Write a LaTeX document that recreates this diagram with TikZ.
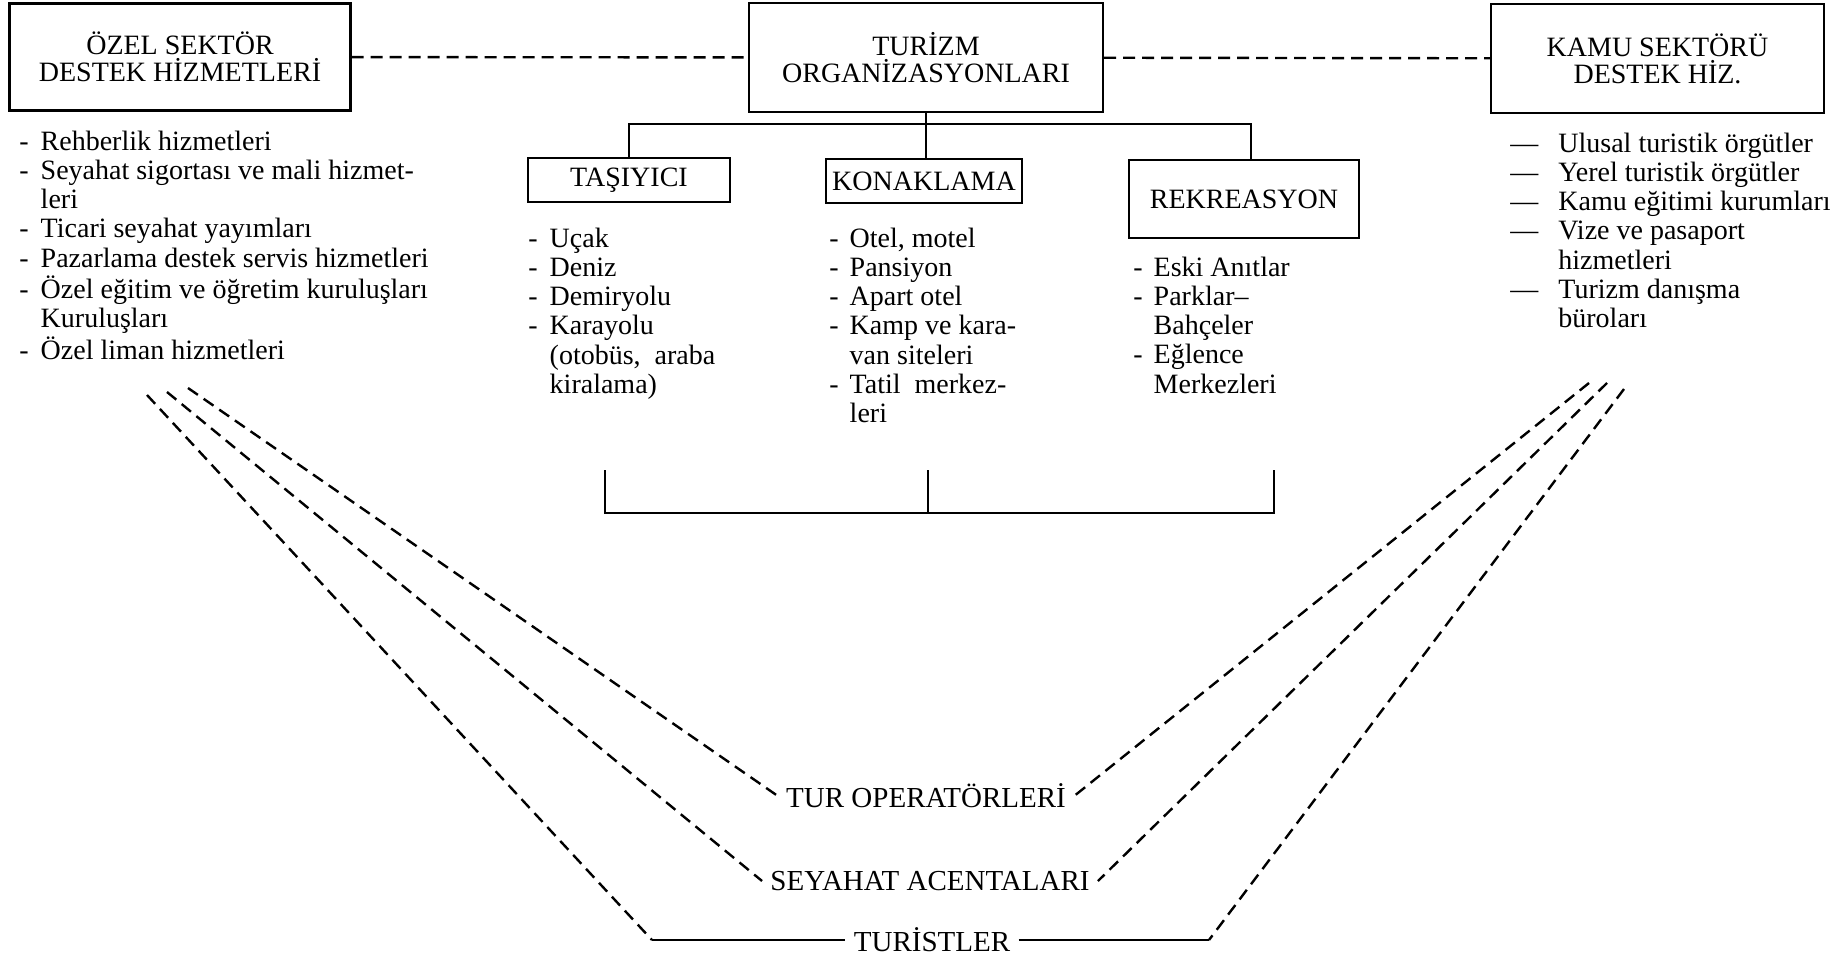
\documentclass[tikz,border=0pt]{standalone}
\usepackage{fontspec}
\setmainfont{Liberation Serif}
\usetikzlibrary{positioning}

\begin{document}
\begin{tikzpicture}[x=0.5pt, y=-0.5pt,
    box/.style={draw, line width=1.2pt, align=center, inner sep=0pt,
      font=\fontsize{14}{13.5}\selectfont},
    lst/.style={anchor=base west, inner sep=0pt,
      font=\fontsize{14}{14.65}\selectfont},
    lbl/.style={inner sep=4pt, font=\fontsize{14.5}{15}\selectfont},
    dsh/.style={line width=1.2pt, dash pattern=on 6pt off 3.5pt},
    ln/.style={line width=1.2pt}
  ]
  \useasboundingbox (0,0) rectangle (1841,958);

  % top row
  \node[box, minimum width=170.5pt, minimum height=53.5pt] (ozel) at (180,57) {ÖZEL SEKTÖR\\DESTEK HİZMETLERİ};
  \node[box, minimum width=177pt, minimum height=54.5pt] (turizm) at (926,57.5) {TURİZM\\ORGANİZASYONLARI};
  \node[box, minimum width=166.5pt, minimum height=54.5pt] (kamu) at (1657.5,58.5) {KAMU SEKTÖRÜ\\DESTEK HİZ.};
  \draw[dsh] (ozel) -- (turizm);
  \draw[dsh] (turizm) -- (kamu);

  % second row
  \node[box, minimum width=101pt, minimum height=22pt] (tas) at (629,180) {TAŞIYICI};
  \node[box, minimum width=98pt, minimum height=22pt] (kon) at (924,181) {KONAKLAMA};
  \node[box, minimum width=115pt, minimum height=39pt] (rek) at (1244,199) {REKREASYON};
  \draw[ln] (turizm.south) -- (turizm.south |- kon.north);
  \draw[ln] (tas.north) |- ([xshift=3.5pt, yshift=17.5pt]rek.north) -- ([xshift=3.5pt]rek.north);

  % lists
  \node[lst] (ozelL) at (19,150) {\begin{tabular}[t]{@{}l@{\hspace{6pt}}l@{}}
    - & Rehberlik hizmetleri\\
    - & Seyahat sigortası ve mali hizmet-\\
      & leri\\
    - & Ticari seyahat yayımları\\
    - & Pazarlama destek servis hizmetleri\\
    - & Özel eğitim ve öğretim kuruluşları\\
      & Kuruluşları\\
    - & Özel liman hizmetleri
  \end{tabular}};
  \node[lst] (tasL) at (528,247) {\begin{tabular}[t]{@{}l@{\hspace{6pt}}l@{}}
    - & Uçak\\
    - & Deniz\\
    - & Demiryolu\\
    - & Karayolu\\
      & (otobüs,\ \ araba\\
      & kiralama)
  \end{tabular}};
  \node[lst] (konL) at (829,247) {\begin{tabular}[t]{@{}l@{\hspace{5.5pt}}l@{}}
    - & Otel, motel\\
    - & Pansiyon\\
    - & Apart otel\\
    - & Kamp ve kara-\\
      & van siteleri\\
    - & Tatil\ \ merkez-\\
      & leri
  \end{tabular}};
  \node[lst] (rekL) at (1133,276) {\begin{tabular}[t]{@{}l@{\hspace{5.5pt}}l@{}}
    - & Eski Anıtlar\\
    - & Parklar--\\
      & Bahçeler\\
    - & Eğlence\\
      & Merkezleri
  \end{tabular}};
  \node[lst] (kamuL) at (1510,152) {\begin{tabular}[t]{@{}l@{\hspace{10pt}}l@{}}
    --- & Ulusal turistik örgütler\\
    --- & Yerel turistik örgütler\\
    --- & Kamu eğitimi kurumları\\
    --- & Vize ve pasaport\\
        & hizmetleri\\
    --- & Turizm danışma\\
        & büroları
  \end{tabular}};

  % bracket
  \coordinate (bl) at (605,470);
  \coordinate (bm) at (928,470);
  \coordinate (br) at (1274,470);
  \draw[ln] (bl) -- ++(0,43) -| (br);
  \draw[ln] (bm) -- ++(0,43);

  % bottom
  \node[lbl] (tur) at (926,796) {TUR OPERATÖRLERİ};
  \node[lbl] (sey) at (930,881) {SEYAHAT ACENTALARI};
  \node[lbl] (tst) at (932,940) {TURİSTLER};

  \coordinate (a1) at (188,388);
  \coordinate (a2) at (167,392);
  \coordinate (a3) at (147,395);
  \coordinate (b1) at (1589,383);
  \coordinate (b2) at (1607,383);
  \coordinate (b3) at (1624,389);
  \coordinate (tl) at (652,940);
  \coordinate (tr) at (1209,940);

  \draw[dsh] (a1) -- (tur.west);
  \draw[dsh] (a2) -- (sey.west);
  \draw[dsh] (a3) -- (tl);
  \draw[dsh] (b1) -- (tur.east);
  \draw[dsh] (b2) -- (sey.east);
  \draw[dsh] (b3) -- (tr);
  \draw[ln] (tl) -- (tst.west);
  \draw[ln] (tst.east) -- (tr);
\end{tikzpicture}
\end{document}
